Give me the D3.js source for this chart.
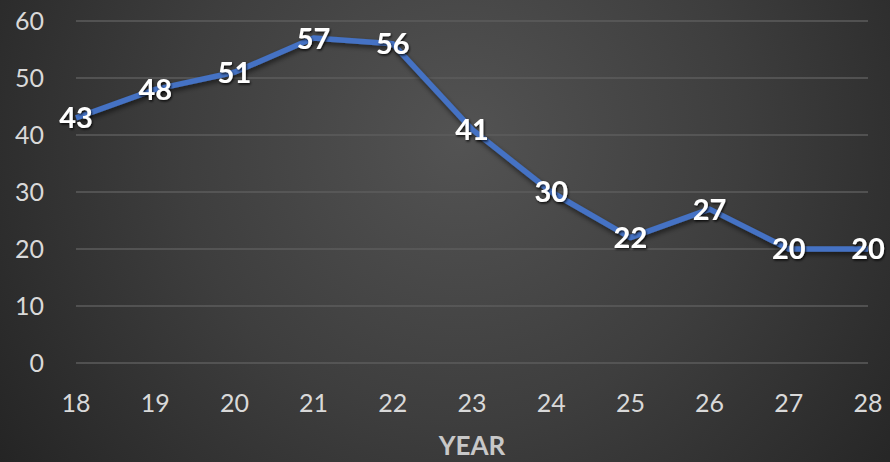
<!DOCTYPE html>
<html>
<head>
<meta charset="utf-8">
<script src="https://cdn.jsdelivr.net/npm/d3@7"></script>
<style>
  html, body { margin: 0; padding: 0; background: #2b2b2b; }
  svg { display: block; }
</style>
</head>
<body>
<svg width="890" height="462"></svg>
<script>
const years = [18, 19, 20, 21, 22, 23, 24, 25, 26, 27, 28];
const values = [43, 48, 51, 57, 56, 41, 30, 22, 27, 20, 20];
const yTicks = [0, 10, 20, 30, 40, 50, 60];
const xTitle = "YEAR";

const svg = d3.select("svg"),
      W = +svg.attr("width"), H = +svg.attr("height"),
      margin = {top: 21, right: 22, bottom: 99, left: 76},
      width = W - margin.left - margin.right,
      height = H - margin.top - margin.bottom;

const font = "Lato, 'Open Sans', sans-serif";

// background: dark radial gradient, lighter toward the top middle
const defs = svg.append("defs");
const grad = defs.append("radialGradient")
  .attr("id", "bg")
  .attr("gradientUnits", "userSpaceOnUse")
  .attr("cx", 460).attr("cy", 140).attr("r", 620);
grad.append("stop").attr("offset", "0%").attr("stop-color", "#535353");
grad.append("stop").attr("offset", "45%").attr("stop-color", "#3e3e3e");
grad.append("stop").attr("offset", "100%").attr("stop-color", "#1f1f1f");

const shadow = defs.append("filter").attr("id", "shadow")
  .attr("x", "-20%").attr("y", "-20%").attr("width", "140%").attr("height", "140%");
shadow.append("feDropShadow")
  .attr("dx", 1).attr("dy", 3).attr("stdDeviation", 2.5)
  .attr("flood-color", "#000").attr("flood-opacity", 0.55);

const txtShadow = defs.append("filter").attr("id", "txtShadow");
txtShadow.append("feDropShadow")
  .attr("dx", 1).attr("dy", 1.5).attr("stdDeviation", 1.2)
  .attr("flood-color", "#000").attr("flood-opacity", 0.8);

svg.append("rect").attr("width", W).attr("height", H).attr("fill", "url(#bg)");

const g = svg.append("g")
  .attr("transform", `translate(${margin.left},${margin.top})`);

const x = d3.scaleLinear().domain([18, 28]).range([0, width]);
const y = d3.scaleLinear().domain([0, 60]).range([height, 0]);

// gridlines
g.append("g").selectAll("line")
  .data(yTicks)
  .enter().append("line")
  .attr("x1", 0).attr("x2", width)
  .attr("y1", d => y(d)).attr("y2", d => y(d))
  .attr("stroke", "#5c5c5c")
  .attr("stroke-width", 1.3);

// y axis labels
g.append("g").selectAll("text")
  .data(yTicks)
  .enter().append("text")
  .attr("x", -32)
  .attr("y", d => y(d))
  .attr("dy", "0.36em")
  .attr("text-anchor", "end")
  .attr("fill", "#d9d9d9")
  .style("font-family", font)
  .style("font-size", "25px")
  .text(d => d);

// x axis labels
g.append("g").selectAll("text")
  .data(years)
  .enter().append("text")
  .attr("x", d => x(d))
  .attr("y", height + 40)
  .attr("dy", "0.36em")
  .attr("text-anchor", "middle")
  .attr("fill", "#d9d9d9")
  .style("font-family", font)
  .style("font-size", "25px")
  .text(d => d);

svg.append("text")
  .attr("x", margin.left + width / 2)
  .attr("y", 446)
  .attr("dy", "0.36em")
  .attr("text-anchor", "middle")
  .attr("fill", "#c8c8c8")
  .style("font-family", font)
  .style("font-weight", "bold")
  .style("font-size", "26px")
  .text(xTitle);

// line
const line = d3.line()
  .x((d, i) => x(years[i]))
  .y(d => y(d));

g.append("path")
  .datum(values)
  .attr("d", line)
  .attr("fill", "none")
  .attr("stroke", "#4472c4")
  .attr("stroke-width", 5.5)
  .attr("stroke-linejoin", "round")
  .attr("filter", "url(#shadow)");

// data labels
g.append("g").selectAll("text")
  .data(values)
  .enter().append("text")
  .attr("x", (d, i) => x(years[i]))
  .attr("y", d => y(d))
  .attr("dy", "0.36em")
  .attr("text-anchor", "middle")
  .attr("fill", "#ffffff")
  .attr("filter", "url(#txtShadow)")
  .style("font-family", font)
  .style("font-weight", "bold")
  .style("font-size", "29px")
  .text(d => d);
</script>
</body>
</html>
